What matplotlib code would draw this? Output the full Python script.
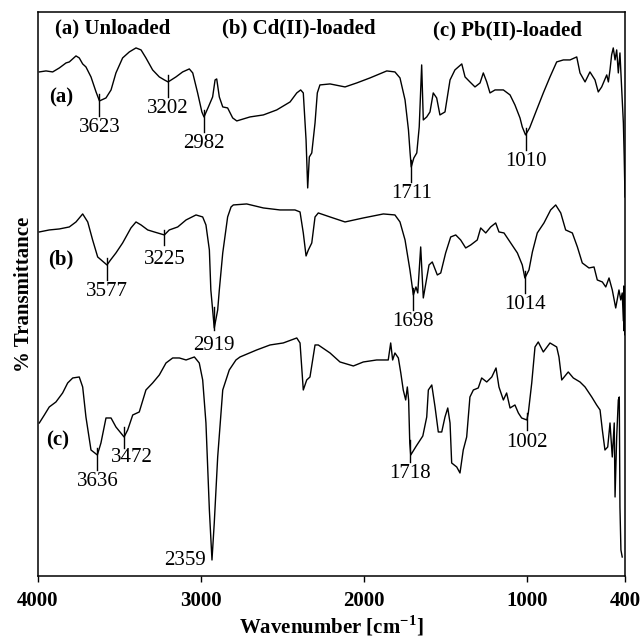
import numpy as np
import matplotlib
matplotlib.use("Agg")
import matplotlib.pyplot as plt

plt.rcParams['font.family'] = 'Liberation Serif'
plt.rcParams['mathtext.fontset'] = 'custom'
plt.rcParams['mathtext.rm'] = 'Liberation Serif'
plt.rcParams['mathtext.bf'] = 'Liberation Serif:bold'

# FTIR spectra (wavenumber cm-1, transmittance in arbitrary offset units)
a_wn = [3992, 3951, 3910, 3869, 3828, 3808, 3767, 3747, 3726, 3706, 3675, 3644, 3623, 3583, 3552,
        3522, 3481, 3440, 3399, 3368, 3338, 3297, 3256, 3225, 3202, 3154, 3113, 3072, 3051, 3021,
        2995, 2982, 2955, 2929, 2914, 2904, 2888, 2867, 2837, 2806, 2781, 2700, 2618, 2536, 2454,
        2413, 2389, 2373, 2356, 2346, 2336, 2321, 2301, 2287, 2271, 2209, 2117, 2045, 1964, 1861,
        1811, 1780, 1749, 1728, 1718, 1711, 1695, 1677, 1662, 1647, 1637, 1616, 1596, 1576, 1555,
        1535, 1504, 1473, 1443, 1422, 1401, 1381, 1351, 1320, 1289, 1269, 1248, 1228, 1197, 1146,
        1105, 1075, 1044, 1030, 1010, 985, 942, 901, 860, 819, 778, 737, 696, 676, 645,
        615, 584, 564, 543, 512, 502, 492, 482, 472, 461, 451, 441, 431, 420, 410,
        405, 400]
a_t = [504, 505, 504, 508, 513, 514, 520, 518, 512, 509, 499, 484, 475, 478, 486,
       503, 518, 524, 528, 526, 518, 506, 499, 496, 494, 499, 504, 507, 503, 483,
       464, 459, 469, 479, 496, 497, 479, 469, 468, 458, 455, 459, 461, 466, 474,
       483, 486, 483, 436, 388, 419, 423, 453, 483, 491, 492, 489, 493, 498, 505,
       504, 498, 476, 446, 423, 409, 418, 423, 449, 511, 456, 459, 464, 483, 478,
       461, 464, 496, 506, 509, 512, 499, 494, 489, 493, 503, 494, 483, 486, 486,
       481, 471, 458, 449, 441, 448, 466, 483, 499, 514, 516, 516, 519, 503, 494,
       504, 496, 484, 489, 501, 494, 506, 521, 528, 516, 526, 503, 523, 486, 453,
       420, 379]

b_wn = [3992, 3931, 3869, 3808, 3767, 3726, 3695, 3665, 3634, 3577, 3555, 3522, 3481, 3430, 3399,
        3368, 3327, 3287, 3225, 3195, 3143, 3092, 3031, 2990, 2970, 2949, 2940, 2919, 2898, 2888,
        2867, 2837, 2816, 2802, 2720, 2618, 2516, 2424, 2393, 2373, 2356, 2342, 2321, 2301, 2281,
        2209, 2117, 2005, 1882, 1811, 1780, 1749, 1719, 1698, 1682, 1671, 1653, 1637, 1602, 1582,
        1551, 1530, 1500, 1469, 1438, 1408, 1377, 1346, 1306, 1285, 1254, 1224, 1193, 1173, 1142,
        1101, 1060, 1030, 1014, 989, 968, 938, 897, 856, 825, 794, 764, 723, 692, 662,
        621, 590, 570, 539, 518, 498, 478, 457, 437, 426, 417, 410, 407, 405, 403,
        401, 400]
b_t = [344, 346, 347, 349, 354, 362, 354, 336, 319, 311, 316, 323, 333, 348, 354,
       351, 346, 344, 341, 346, 349, 356, 361, 359, 351, 326, 286, 248, 266, 286,
       323, 359, 369, 371, 372, 368, 366, 366, 364, 343, 320, 326, 333, 359, 363,
       359, 354, 358, 362, 361, 354, 336, 306, 281, 289, 283, 329, 278, 311, 314,
       301, 303, 323, 339, 341, 336, 328, 331, 336, 348, 343, 349, 353, 344, 343,
       333, 323, 311, 298, 306, 324, 343, 353, 366, 371, 363, 346, 343, 329, 313,
       308, 309, 296, 294, 289, 298, 286, 268, 286, 276, 283, 255, 290, 245, 285,
       241, 260]

c_wn = [3992, 3961, 3931, 3890, 3849, 3818, 3787, 3747, 3726, 3706, 3675, 3636, 3614, 3583, 3552,
        3522, 3472, 3450, 3419, 3379, 3338, 3297, 3256, 3215, 3174, 3133, 3092, 3041, 3011, 2990,
        2970, 2949, 2933, 2919, 2898, 2867, 2827, 2786, 2761, 2659, 2577, 2496, 2413, 2393, 2373,
        2352, 2332, 2301, 2281, 2209, 2148, 2066, 2005, 1923, 1852, 1837, 1825, 1811, 1790, 1775,
        1760, 1745, 1735, 1727, 1720, 1714, 1680, 1640, 1616, 1606, 1585, 1565, 1545, 1524, 1504,
        1487, 1473, 1463, 1432, 1412, 1392, 1371, 1351, 1330, 1300, 1279, 1248, 1217, 1191, 1173,
        1146, 1126, 1105, 1075, 1054, 1034, 1002, 993, 972, 952, 932, 901, 860, 819, 805,
        788, 748, 717, 676, 645, 604, 574, 553, 539, 523, 506, 492, 478, 466, 461,
        451, 441, 435, 431, 425, 417]
c_t = [153, 161, 169, 174, 183, 193, 198, 199, 189, 159, 126, 121, 133, 158, 158,
       149, 139, 146, 161, 164, 186, 193, 201, 213, 218, 218, 216, 219, 213, 196,
       153, 66, 16, 53, 119, 186, 206, 216, 219, 226, 231, 233, 238, 233, 186,
       196, 199, 231, 231, 223, 214, 210, 214, 216, 216, 233, 216, 223, 218, 203,
       186, 176, 189, 176, 133, 121, 130, 140, 159, 186, 191, 169, 144, 144, 159,
       168, 153, 113, 109, 103, 126, 139, 179, 186, 188, 198, 194, 199, 208, 189,
       176, 183, 168, 171, 163, 158, 156, 163, 193, 229, 234, 224, 233, 229, 219,
       196, 204, 198, 194, 189, 179, 171, 166, 146, 126, 129, 153, 119, 153, 79,
       139, 176, 179, 69, 26, 19]

# peak annotations: trace, wavenumber, text
peak_trace = ['a', 'a', 'a', 'a', 'a', 'b', 'b', 'b', 'b', 'b', 'c', 'c', 'c', 'c']
peak_wn = [3623, 3202, 2982, 1711, 1010, 3577, 3225, 2919, 1698, 1014, 3636, 3472, 1718, 1002]
peak_text = ['3623', '3202', '2982', '1711', '1010', '3577', '3225', '2919', '1698', '1014',
             '3636', '3472', '1718', '1002']

fig = plt.figure(figsize=(6.44, 6.41), dpi=100)
ax = fig.add_axes([0.059, 0.1014, 0.9115, 0.880])

spectra = {'a': (a_wn, a_t), 'b': (b_wn, b_t), 'c': (c_wn, c_t)}
for key, (w, t) in spectra.items():
    ax.plot(w, t, color='black', lw=1.0)

# tick marks and labels on the peaks (up, down, text dx, text dy in px)
special = {'2919': (21, 2, 0, -18), '3472': (10, 11, 8, -21), '1002': (7, 10, 0, -23),
           '3225': (5, 10, 0, -25)}
for tr, w, txt in zip(peak_trace, peak_wn, peak_text):
    ws, ts = spectra[tr]
    t = np.interp(w, ws[::-1], ts[::-1])
    up, dn, dx, dy = special.get(txt, (7, 15, 0, -27))
    ax.plot([w, w], [t + up, t - dn], color='black', lw=1.0)
    ax.annotate(txt, xy=(w, t), xytext=(dx * 0.72, dy * 0.72), textcoords='offset points',
                ha='center', va='center', fontsize=15)

# deepest band of (c)
i_min = int(np.argmin(c_t))
ax.annotate('2359', xy=(c_wn[i_min], c_t[i_min]), xytext=(-6 * 0.72, 0), textcoords='offset points',
            ha='right', va='center', fontsize=15)

# headers and trace letters
ax.text(3896, 547, '(a) Unloaded', fontsize=15, fontweight='bold', va='center')
ax.text(2872, 547, '(b) Cd(II)-loaded', fontsize=15, fontweight='bold', va='center')
ax.text(1577, 545, '(c) Pb(II)-loaded', fontsize=15, fontweight='bold', va='center')
ax.text(3859, 478, '(a)', fontsize=15, fontweight='bold', ha='center', va='center')
ax.text(3859, 316, '(b)', fontsize=15, fontweight='bold', ha='center', va='center')
ax.text(3877, 135, '(c)', fontsize=15, fontweight='bold', ha='center', va='center')

ax.set_xlim(4000, 400)
ax.set_ylim(0, 564)
ax.set_xticks([4000, 3000, 2000, 1000, 400])
ax.set_yticks([])
ax.tick_params(axis='x', direction='out', length=4.5, width=1.0, pad=6, labelsize=15)
for lab in ax.get_xticklabels():
    lab.set_fontweight('bold')
for s in ax.spines.values():
    s.set_linewidth(1.1)

ax.set_xlabel(r'Wavenumber [cm$^{\mathbf{-1}}$]', fontsize=15, fontweight='bold', labelpad=2)
ax.set_ylabel('% Transmittance', fontsize=15, fontweight='bold', labelpad=3)

fig.savefig('out.png', dpi=100)
